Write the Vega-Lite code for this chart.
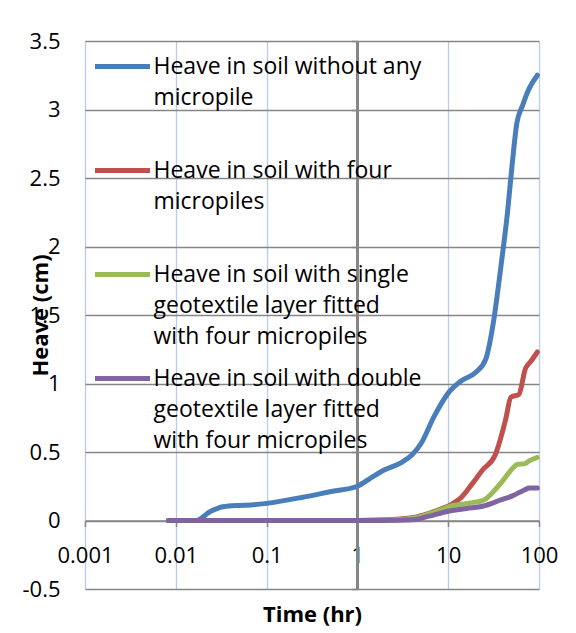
{
  "$schema": "https://vega.github.io/schema/vega-lite/v6.json",
  "width": 454,
  "height": 548,
  "autosize": {"type": "none"},
  "padding": {"left": 85, "top": 41, "right": 37, "bottom": 44},
  "background": "white",
  "config": {
    "font": "Open Sans",
    "view": {"stroke": null},
    "axis": {"labelColor": "#000", "titleColor": "#000", "labelFontSize": 22, "titleFontSize": 22, "titleFontWeight": "bold"}
  },
  "data": {
    "values": [
      {"s": "Heave in soil without any micropile", "t": 0.0083, "h": 0},
      {"s": "Heave in soil without any micropile", "t": 0.0167, "h": 0},
      {"s": "Heave in soil without any micropile", "t": 0.024, "h": 0.065},
      {"s": "Heave in soil without any micropile", "t": 0.033, "h": 0.1},
      {"s": "Heave in soil without any micropile", "t": 0.05, "h": 0.11},
      {"s": "Heave in soil without any micropile", "t": 0.067, "h": 0.113},
      {"s": "Heave in soil without any micropile", "t": 0.1, "h": 0.125},
      {"s": "Heave in soil without any micropile", "t": 0.25, "h": 0.17},
      {"s": "Heave in soil without any micropile", "t": 0.5, "h": 0.21},
      {"s": "Heave in soil without any micropile", "t": 1, "h": 0.25},
      {"s": "Heave in soil without any micropile", "t": 1.4, "h": 0.31},
      {"s": "Heave in soil without any micropile", "t": 2, "h": 0.37},
      {"s": "Heave in soil without any micropile", "t": 3, "h": 0.42},
      {"s": "Heave in soil without any micropile", "t": 4, "h": 0.48},
      {"s": "Heave in soil without any micropile", "t": 5, "h": 0.56},
      {"s": "Heave in soil without any micropile", "t": 7, "h": 0.76},
      {"s": "Heave in soil without any micropile", "t": 10, "h": 0.93},
      {"s": "Heave in soil without any micropile", "t": 14, "h": 1.02},
      {"s": "Heave in soil without any micropile", "t": 20, "h": 1.08},
      {"s": "Heave in soil without any micropile", "t": 26, "h": 1.18},
      {"s": "Heave in soil without any micropile", "t": 31, "h": 1.42},
      {"s": "Heave in soil without any micropile", "t": 38, "h": 1.85},
      {"s": "Heave in soil without any micropile", "t": 45, "h": 2.25},
      {"s": "Heave in soil without any micropile", "t": 51, "h": 2.62},
      {"s": "Heave in soil without any micropile", "t": 57, "h": 2.9},
      {"s": "Heave in soil without any micropile", "t": 66, "h": 3.03},
      {"s": "Heave in soil without any micropile", "t": 75, "h": 3.13},
      {"s": "Heave in soil without any micropile", "t": 96, "h": 3.25},

      {"s": "Heave in soil with four micropiles", "t": 0.0083, "h": 0},
      {"s": "Heave in soil with four micropiles", "t": 0.0167, "h": 0},
      {"s": "Heave in soil with four micropiles", "t": 0.033, "h": 0},
      {"s": "Heave in soil with four micropiles", "t": 0.067, "h": 0},
      {"s": "Heave in soil with four micropiles", "t": 0.133, "h": 0},
      {"s": "Heave in soil with four micropiles", "t": 0.25, "h": 0},
      {"s": "Heave in soil with four micropiles", "t": 0.5, "h": 0},
      {"s": "Heave in soil with four micropiles", "t": 1, "h": 0},
      {"s": "Heave in soil with four micropiles", "t": 2, "h": 0.005},
      {"s": "Heave in soil with four micropiles", "t": 4, "h": 0.02},
      {"s": "Heave in soil with four micropiles", "t": 6, "h": 0.05},
      {"s": "Heave in soil with four micropiles", "t": 8, "h": 0.08},
      {"s": "Heave in soil with four micropiles", "t": 11, "h": 0.12},
      {"s": "Heave in soil with four micropiles", "t": 14, "h": 0.17},
      {"s": "Heave in soil with four micropiles", "t": 18, "h": 0.26},
      {"s": "Heave in soil with four micropiles", "t": 24, "h": 0.37},
      {"s": "Heave in soil with four micropiles", "t": 33, "h": 0.48},
      {"s": "Heave in soil with four micropiles", "t": 43, "h": 0.74},
      {"s": "Heave in soil with four micropiles", "t": 49, "h": 0.9},
      {"s": "Heave in soil with four micropiles", "t": 60, "h": 0.92},
      {"s": "Heave in soil with four micropiles", "t": 71, "h": 1.11},
      {"s": "Heave in soil with four micropiles", "t": 81, "h": 1.16},
      {"s": "Heave in soil with four micropiles", "t": 96, "h": 1.23},

      {"s": "Heave in soil with single geotextile layer fitted with four micropiles", "t": 0.0083, "h": 0},
      {"s": "Heave in soil with single geotextile layer fitted with four micropiles", "t": 0.0167, "h": 0},
      {"s": "Heave in soil with single geotextile layer fitted with four micropiles", "t": 0.033, "h": 0},
      {"s": "Heave in soil with single geotextile layer fitted with four micropiles", "t": 0.067, "h": 0},
      {"s": "Heave in soil with single geotextile layer fitted with four micropiles", "t": 0.133, "h": 0},
      {"s": "Heave in soil with single geotextile layer fitted with four micropiles", "t": 0.25, "h": 0},
      {"s": "Heave in soil with single geotextile layer fitted with four micropiles", "t": 0.5, "h": 0},
      {"s": "Heave in soil with single geotextile layer fitted with four micropiles", "t": 1, "h": 0},
      {"s": "Heave in soil with single geotextile layer fitted with four micropiles", "t": 2, "h": 0.003},
      {"s": "Heave in soil with single geotextile layer fitted with four micropiles", "t": 4, "h": 0.015},
      {"s": "Heave in soil with single geotextile layer fitted with four micropiles", "t": 7, "h": 0.06},
      {"s": "Heave in soil with single geotextile layer fitted with four micropiles", "t": 10, "h": 0.1},
      {"s": "Heave in soil with single geotextile layer fitted with four micropiles", "t": 16, "h": 0.125},
      {"s": "Heave in soil with single geotextile layer fitted with four micropiles", "t": 24, "h": 0.145},
      {"s": "Heave in soil with single geotextile layer fitted with four micropiles", "t": 33, "h": 0.226},
      {"s": "Heave in soil with single geotextile layer fitted with four micropiles", "t": 41, "h": 0.3},
      {"s": "Heave in soil with single geotextile layer fitted with four micropiles", "t": 51, "h": 0.38},
      {"s": "Heave in soil with single geotextile layer fitted with four micropiles", "t": 58, "h": 0.41},
      {"s": "Heave in soil with single geotextile layer fitted with four micropiles", "t": 70, "h": 0.415},
      {"s": "Heave in soil with single geotextile layer fitted with four micropiles", "t": 78, "h": 0.435},
      {"s": "Heave in soil with single geotextile layer fitted with four micropiles", "t": 96, "h": 0.46},

      {"s": "Heave in soil with double geotextile layer fitted with four micropiles", "t": 0.0083, "h": 0},
      {"s": "Heave in soil with double geotextile layer fitted with four micropiles", "t": 0.0167, "h": 0},
      {"s": "Heave in soil with double geotextile layer fitted with four micropiles", "t": 0.033, "h": 0},
      {"s": "Heave in soil with double geotextile layer fitted with four micropiles", "t": 0.067, "h": 0},
      {"s": "Heave in soil with double geotextile layer fitted with four micropiles", "t": 0.133, "h": 0},
      {"s": "Heave in soil with double geotextile layer fitted with four micropiles", "t": 0.25, "h": 0},
      {"s": "Heave in soil with double geotextile layer fitted with four micropiles", "t": 0.5, "h": 0},
      {"s": "Heave in soil with double geotextile layer fitted with four micropiles", "t": 1, "h": 0},
      {"s": "Heave in soil with double geotextile layer fitted with four micropiles", "t": 2, "h": 0},
      {"s": "Heave in soil with double geotextile layer fitted with four micropiles", "t": 4, "h": 0.005},
      {"s": "Heave in soil with double geotextile layer fitted with four micropiles", "t": 6, "h": 0.03},
      {"s": "Heave in soil with double geotextile layer fitted with four micropiles", "t": 10, "h": 0.068},
      {"s": "Heave in soil with double geotextile layer fitted with four micropiles", "t": 16, "h": 0.088},
      {"s": "Heave in soil with double geotextile layer fitted with four micropiles", "t": 24, "h": 0.104},
      {"s": "Heave in soil with double geotextile layer fitted with four micropiles", "t": 38, "h": 0.15},
      {"s": "Heave in soil with double geotextile layer fitted with four micropiles", "t": 51, "h": 0.18},
      {"s": "Heave in soil with double geotextile layer fitted with four micropiles", "t": 70, "h": 0.225},
      {"s": "Heave in soil with double geotextile layer fitted with four micropiles", "t": 78, "h": 0.238},
      {"s": "Heave in soil with double geotextile layer fitted with four micropiles", "t": 96, "h": 0.238}
    ]
  },
  "layer": [
    {
      "mark": {"type": "rule", "color": "#868686", "strokeWidth": 1.5},
      "encoding": {
        "x": {"datum": 1, "type": "quantitative"},
        "y": {
          "datum": -0.5,
          "type": "quantitative",
          "axis": {
            "orient": "left",
            "offset": -272.5,
            "labels": false,
            "grid": false,
            "domain": true,
            "domainColor": "#868686",
            "domainWidth": 1.5,
            "ticks": true,
            "tickColor": "#868686",
            "tickWidth": 1.5,
            "tickSize": 6,
            "values": [-0.5, 0, 0.5, 1, 1.5, 2, 2.5, 3, 3.5],
            "title": null
          }
        },
        "y2": {"datum": 3.5}
      }
    },
    {
      "mark": {"type": "line", "strokeWidth": 5, "interpolate": "monotone", "strokeCap": "round"},
      "encoding": {
        "x": {
          "field": "t",
          "type": "quantitative",
          "scale": {"type": "log", "domain": [0.001, 100], "nice": false},
          "axis": {
            "values": [0.001, 0.01, 0.1, 1, 10, 100],
            "labelExpr": "toString(datum.value)",
            "offset": -68.5,
            "domainColor": "#868686",
            "domainWidth": 1.5,
            "tickColor": "#868686",
            "tickWidth": 1.5,
            "tickSize": 6,
            "labelPadding": 19,
            "labelFlush": false,
            "labelOverlap": false,
            "labelBound": false,
            "grid": true,
            "gridColor": "#b8cbe9",
            "gridWidth": 1.3,
            "title": "Time (hr)",
            "titleY": 94,
            "titleBaseline": "middle"
          }
        },
        "y": {
          "field": "h",
          "type": "quantitative",
          "scale": {"domain": [-0.5, 3.5], "nice": false, "zero": false},
          "axis": {
            "orient": "left",
            "values": [-0.5, 0, 0.5, 1, 1.5, 2, 2.5, 3, 3.5],
            "labelExpr": "toString(datum.value)",
            "domain": false,
            "ticks": false,
            "labelPadding": 25,
            "labelOverlap": false,
            "labelBound": false,
            "labelFlush": false,
            "grid": true,
            "gridColor": "#868686",
            "gridWidth": 1.5,
            "title": "Heave (cm)",
            "titleX": -45,
            "titleBaseline": "middle"
          }
        },
        "color": {
          "field": "s",
          "type": "nominal",
          "scale": {
            "domain": [
              "Heave in soil without any micropile",
              "Heave in soil with four micropiles",
              "Heave in soil with single geotextile layer fitted with four micropiles",
              "Heave in soil with double geotextile layer fitted with four micropiles"
            ],
            "range": ["#4a7ebb", "#c0504d", "#9bbb59", "#8064a2"]
          },
          "legend": {
            "orient": "none",
            "legendX": 7.5,
            "legendY": -4.5,
            "title": null,
            "padding": 0,
            "symbolType": "stroke",
            "symbolSize": 3025,
            "symbolStrokeWidth": 5,
            "labelFontSize": 23,
            "labelColor": "#000",
            "labelLimit": 600,
            "labelOffset": 1,
            "labelBaseline": "top",
            "rowPadding": 0,
            "gridAlign": "all",
            "labelExpr": "datum.label == 'Heave in soil without any micropile' ? ['Heave in soil without any', 'micropile', ' '] : datum.label == 'Heave in soil with four micropiles' ? ['Heave in soil with four', 'micropiles', ' '] : datum.label == 'Heave in soil with single geotextile layer fitted with four micropiles' ? ['Heave in soil with single', 'geotextile layer fitted', 'with four micropiles'] : ['Heave in soil with double', 'geotextile layer fitted', 'with four micropiles']",
            "encode": {"labels": {"update": {"dy": {"value": -11}, "lineHeight": {"value": 31}}}}
          }
        }
      }
    }
  ],
  "resolve": {"axis": {"y": "independent"}}
}
